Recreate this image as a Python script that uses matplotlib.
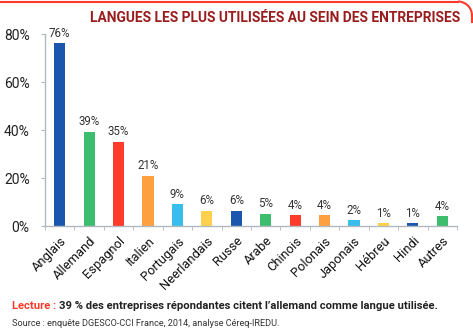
import matplotlib
matplotlib.use("Agg")
import matplotlib.pyplot as plt
from matplotlib.lines import Line2D
from matplotlib.patches import Arc

# Data
languages = ["Anglais", "Allemand", "Espagnol", "Italien", "Portugais", "Neerlandais",
             "Russe", "Arabe", "Chinois", "Polonais", "Japonais", "Hébreu", "Hindi", "Autres"]
shares = [76.1, 39.2, 35.0, 21.0, 9.0, 6.4, 6.4, 5.1, 4.5, 4.4, 2.4, 1.2, 1.2, 4.1]
labels = ["76%", "39%", "35%", "21%", "9%", "6%", "6%", "5%", "4%", "4%", "2%", "1%", "1%", "4%"]
palette = ["#1a56ad", "#3dbd6e", "#ff3b2b", "#ffa040", "#38bdec", "#ffd04c"]
yticks = [0, 20, 40, 60, 80]

plt.rcParams["font.family"] = ["Roboto", "DejaVu Sans"]

W, H = 473, 333
fig = plt.figure(figsize=(W / 100, H / 100), dpi=100)
ax = fig.add_axes([45 / W, 1 - 226 / H, (457 - 45) / W, (226 - 34) / H])

colors = [palette[i % len(palette)] for i in range(len(languages))]
x = list(range(len(languages)))
bars = ax.bar(x, shares, width=0.38, color=colors)
for b, lab in zip(bars, labels):
    ax.text(b.get_x() + b.get_width() / 2, b.get_height() + 1.5, lab,
            ha="center", va="bottom", fontsize=8.3, color="#333333")

ax.set_xlim(-0.5, len(languages) - 0.5)
ax.set_ylim(0, 80)
ax.set_yticks(yticks)
ax.set_yticklabels([f"{v}%" for v in yticks], fontsize=10, color="#222222")
ax.set_xticks(x)
ax.set_xticklabels(languages, rotation=45, ha="right", rotation_mode="anchor",
                   fontsize=9.3, color="#111111")
ax.set_xticks([i - 0.5 for i in range(len(languages) + 1)], minor=True)
ax.tick_params(axis="x", which="major", length=0, pad=6)
ax.tick_params(axis="x", which="minor", length=3, color="#b0b8c0", direction="out")
ax.tick_params(axis="y", length=3, color="#b0b8c0", pad=8)
for s in ["top", "right"]:
    ax.spines[s].set_visible(False)
for s in ["left", "bottom"]:
    ax.spines[s].set_color("#b0b8c0")
    ax.spines[s].set_linewidth(1.0)

# title
fig.text(460 / W, 1 - 18 / H, "LANGUES LES PLUS UTILISÉES AU SEIN DES ENTREPRISES",
         ha="right", va="center", fontsize=9.9, fontweight="bold", color="#9a1d1d")

# footer
fig.canvas.draw()
r = fig.canvas.get_renderer()
t1 = fig.text(12 / W, 1 - 306 / H, "Lecture : ", ha="left", va="center",
              fontsize=8.1, fontweight="bold", color="#ff3a2a")
bb = t1.get_window_extent(renderer=r)
fig.text(bb.x1 / W, 1 - 306 / H,
         "39 % des entreprises répondantes citent l’allemand comme langue utilisée.",
         ha="left", va="center", fontsize=8.1, fontweight="bold", color="#222222")
fig.text(12 / W, 1 - 323 / H, "Source : enquête DGESCO-CCI France, 2014, analyse Céreq-IREDU.",
         ha="left", va="center", fontsize=6.6, color="#333333")

# red frame line at the top with rounded right corner
tr = fig.transFigure
red = "#ff3a2a"
fig.add_artist(Line2D([0, 458 / W], [1 - 1.5 / H, 1 - 1.5 / H], color=red, lw=1.5, transform=tr))
fig.add_artist(Arc((458 / W, 1 - 15.5 / H), 28 / W, 28 / H, theta1=0, theta2=90,
                   color=red, lw=1.5, transform=tr))
fig.add_artist(Line2D([472 / W, 472 / W], [1 - 15.5 / H, 1 - 22 / H], color=red, lw=1.5, transform=tr))

fig.savefig("out.png", dpi=100)
